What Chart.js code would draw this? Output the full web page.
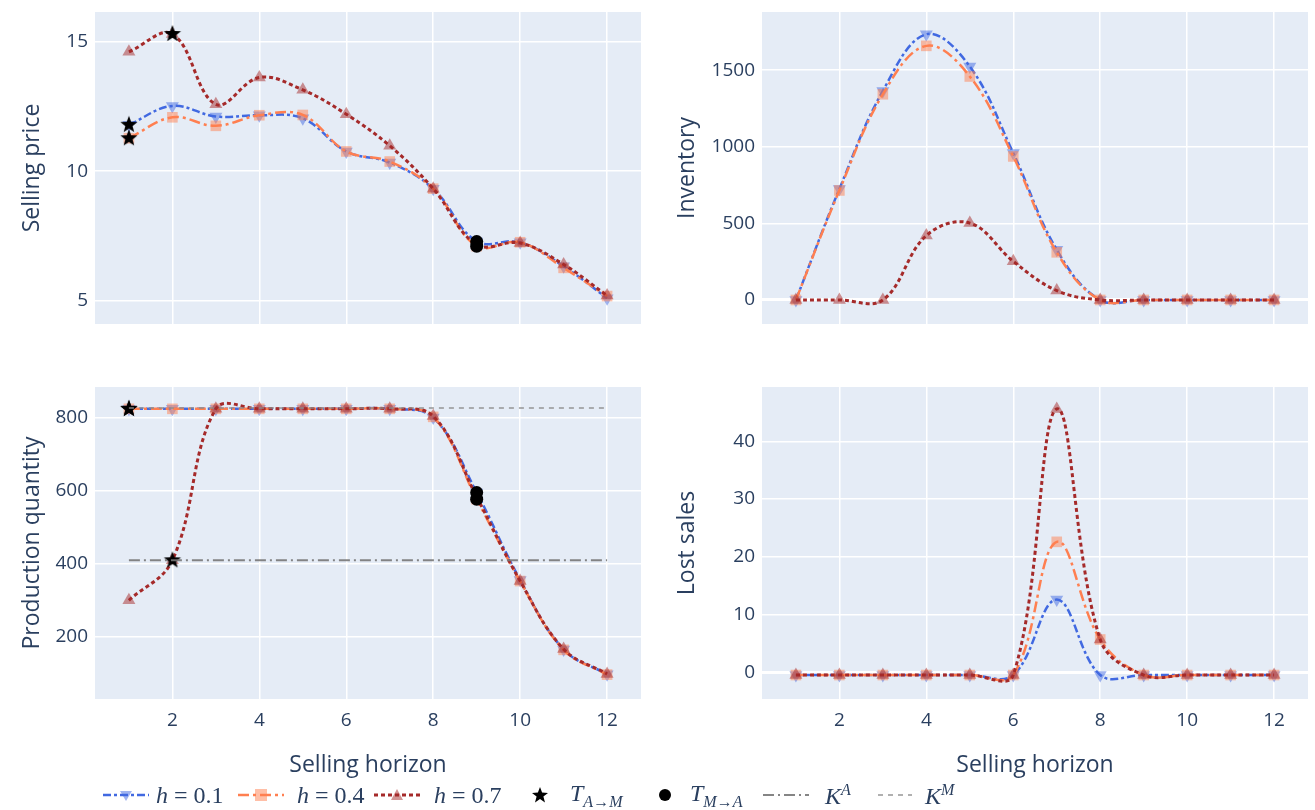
<!DOCTYPE html>
<html>
<head>
<meta charset="utf-8">
<script src="https://cdn.jsdelivr.net/npm/chart.js@4.4.0/dist/chart.umd.min.js"></script>
<style>
  body { margin: 0; background: #fff; width: 1315px; height: 810px; position: relative; overflow: hidden; font-family: 'Open Sans', sans-serif; }
  canvas.plot { position: absolute; }
  .leg { position: absolute; top: 783px; height: 24px; display: flex; align-items: center; color: #2a3f5f; }
  .math { font-family: 'Liberation Serif', 'DejaVu Serif', serif; font-size: 24px; white-space: nowrap; }
  .math .op { margin: 0 6px; font-style: normal; }
  .math sub, .math sup { font-size: 16px; font-style: italic; }
  .math sub { position: relative; top: 1px; }
</style>
</head>
<body>
<canvas id="price" class="plot" style="left:0;top:0" width="641" height="324"></canvas>
<canvas id="inventory" class="plot" style="left:655px;top:0" width="653" height="324"></canvas>
<canvas id="production" class="plot" style="left:0;top:380px" width="641" height="405"></canvas>
<canvas id="lost" class="plot" style="left:655px;top:380px" width="653" height="405"></canvas>

<div id="legend"></div>

<script>
// --- data ---
const horizon = [1, 2, 3, 4, 5, 6, 7, 8, 9, 10, 11, 12];
const xTicks = [2, 4, 6, 8, 10, 12];

const priceH01 = [11.79, 12.52, 12.11, 12.16, 12.04, 10.76, 10.33, 9.32, 7.28, 7.25, 6.32, 5.09];
const priceH04 = [11.27, 12.08, 11.75, 12.16, 12.17, 10.76, 10.37, 9.32, 7.10, 7.25, 6.26, 5.17];
const priceH07 = [14.61, 15.30, 12.58, 13.62, 13.14, 12.20, 10.98, 9.32, 7.16, 7.22, 6.39, 5.19];
const priceTicks = [5, 10, 15];

const invH01 = [0, 725, 1365, 1735, 1524, 959, 328, 0, 0, 0, 0, 0];
const invH04 = [0, 715, 1343, 1659, 1459, 937, 311, 0, 0, 0, 0, 0];
const invH07 = [0, 0, 0, 420, 502, 252, 61, 0, 0, 0, 0, 0];
const invTicks = [0, 500, 1000, 1500];

const prodH01 = [825, 825, 825, 825, 825, 825, 825, 801, 595, 355, 164, 96];
const prodH04 = [825, 825, 825, 825, 825, 825, 825, 803, 577, 352, 163, 95];
const prodH07 = [299, 409, 825, 825, 825, 825, 825, 805, 583, 352, 165, 97];
const prodTicks = [200, 400, 600, 800];

const lostH01 = [-0.45, -0.45, -0.45, -0.45, -0.45, -0.45, 12.6, -0.45, -0.45, -0.45, -0.45, -0.45];
const lostH04 = [-0.45, -0.45, -0.45, -0.45, -0.45, -0.45, 22.6, 5.7, -0.45, -0.45, -0.45, -0.45];
const lostH07 = [-0.45, -0.45, -0.45, -0.45, -0.45, -0.45, 45.6, 5.7, -0.45, -0.45, -0.45, -0.45];
const lostTicks = [0, 10, 20, 30, 40];

// switch points
const starX = [1, 1, 2];
const starPrice = [11.79, 11.27, 15.30];
const starProd = [825, 825, 409];
const circleX = [9, 9];
const circlePrice = [7.28, 7.10];
const circleProd = [595, 577];

// capacities
const capA = 409;
const capM = 827;

// --- helpers ---
const textCol = '#2a3f5f';
const colH01 = 'rgb(65,105,225)';
const colH04 = 'rgb(255,127,80)';
const colH07 = 'rgb(165,42,42)';

const makeStar = (r) => {
    const c = document.createElement('canvas');
    c.width = c.height = 2 * r + 2;
    const g = c.getContext('2d');
    g.beginPath();
    for (let i = 0; i < 10; i++) {
        const a = -Math.PI / 2 + i * Math.PI / 5;
        const rad = i % 2 ? r * 0.42 : r;
        g.lineTo(r + 1 + rad * Math.cos(a), r + 1 + rad * Math.sin(a));
    }
    g.closePath();
    g.fillStyle = '#000';
    g.fill();
    return c;
};
const starImg = makeStar(9);

const pts = (xs, ys) => xs.map((x, i) => ({ x: x, y: ys[i] }));

const hSeries = (h01, h04, h07) => [
    {
        data: pts(horizon, h01), borderColor: colH01, borderWidth: 2.5, borderDash: [8, 3, 3, 3],
        pointStyle: 'triangle', rotation: 180, pointRadius: 7.5,
        pointBackgroundColor: 'rgba(65,105,225,0.5)', pointBorderWidth: 0, tension: 0.38, order: 7
    },
    {
        data: pts(horizon, h04), borderColor: colH04, borderWidth: 2.5, borderDash: [11, 4, 3, 4],
        pointStyle: 'rect', pointRadius: 7.5,
        pointBackgroundColor: 'rgba(255,127,80,0.5)', pointBorderWidth: 0, tension: 0.38, order: 6
    },
    {
        data: pts(horizon, h07), borderColor: colH07, borderWidth: 3, borderDash: [4, 3],
        pointStyle: 'triangle', pointRadius: 7.5,
        pointBackgroundColor: 'rgba(165,42,42,0.5)', pointBorderWidth: 0, tension: 0.38, order: 5
    }
];

const markerSets = (starY, circleY) => [
    { data: pts(starX, starY), showLine: false, pointStyle: starImg, order: 4 },
    { data: pts(circleX, circleY), showLine: false, pointStyle: 'circle', pointRadius: 6.5,
      pointBackgroundColor: '#000', pointBorderWidth: 0, order: 3 }
];

const capLines = () => [
    { data: [{ x: horizon[0], y: capA }, { x: horizon[horizon.length - 1], y: capA }],
      borderColor: 'rgba(120,120,120,0.9)', borderWidth: 2, borderDash: [11, 4, 2, 4], pointRadius: 0, order: 2 },
    { data: [{ x: horizon[0], y: capM }, { x: horizon[horizon.length - 1], y: capM }],
      borderColor: 'rgba(140,140,140,0.9)', borderWidth: 1.5, borderDash: [5, 5], pointRadius: 0, order: 1 }
];

const plotBg = {
    id: 'plotBg',
    beforeDraw(chart) {
        const { ctx, chartArea: a } = chart;
        ctx.save();
        ctx.fillStyle = '#E5ECF6';
        ctx.fillRect(a.left, a.top, a.width, a.height);
        ctx.restore();
    }
};

const setTicks = (vals) => (scale) => { scale.ticks = vals.map(v => ({ value: v })); };
const noPad = (s) => { s.paddingTop = 0; s.paddingBottom = 0; s.paddingLeft = 0; s.paddingRight = 0; };

const makeChart = (id, datasets, opt) => {
    const bottom = opt.bottomRow;
    return new Chart(document.getElementById(id), {
        type: 'line',
        data: { datasets: datasets },
        plugins: [plotBg],
        options: {
            responsive: false,
            animation: false,
            events: [],
            layout: { autoPadding: false, padding: { top: bottom ? 7 : 12, left: 0, right: 0, bottom: 0 } },
            plugins: { legend: { display: false }, tooltip: { enabled: false } },
            scales: {
                x: {
                    type: 'linear', min: 0.22, max: 12.78,
                    afterBuildTicks: setTicks(xTicks),
                    afterFit: (s) => { s.height = bottom ? 86 : 0; noPad(s); },
                    grid: { color: '#ffffff', lineWidth: 1.5, drawTicks: false },
                    border: { display: false },
                    ticks: { display: bottom, padding: 10, color: textCol, font: { family: 'Open Sans', size: 19 } },
                    title: { display: bottom, text: 'Selling horizon', color: textCol,
                             font: { family: 'Open Sans', size: 23 }, padding: { top: 0, bottom: 6 } }
                },
                y: {
                    min: opt.min, max: opt.max,
                    afterBuildTicks: setTicks(opt.ticks),
                    afterFit: (s) => { s.width = opt.axisWidth; noPad(s); },
                    grid: { color: '#ffffff', drawTicks: false,
                            lineWidth: (c) => (c.tick && c.tick.value === 0 ? 3 : 1.5) },
                    border: { display: false },
                    ticks: { padding: 7, color: textCol, font: { family: 'Open Sans', size: 19 },
                             callback: (v) => String(v) },
                    title: { display: true, text: opt.title, color: textCol,
                             font: { family: 'Open Sans', size: 23 }, padding: { top: 19, bottom: 0 } }
                }
            }
        }
    });
};

makeChart('price', [...hSeries(priceH01, priceH04, priceH07), ...markerSets(starPrice, circlePrice)],
    { min: 4.09, max: 16.15, ticks: priceTicks, title: 'Selling price', axisWidth: 95, bottomRow: false });
makeChart('inventory', hSeries(invH01, invH04, invH07),
    { min: -157, max: 1880, ticks: invTicks, title: 'Inventory', axisWidth: 107, bottomRow: false });
makeChart('production', [...hSeries(prodH01, prodH04, prodH07), ...markerSets(starProd, circleProd), ...capLines()],
    { min: 28, max: 885, ticks: prodTicks, title: 'Production quantity', axisWidth: 95, bottomRow: true });
makeChart('lost', hSeries(lostH01, lostH04, lostH07),
    { min: -4.6, max: 49.4, ticks: lostTicks, title: 'Lost sales', axisWidth: 107, bottomRow: true });

// --- legend (HTML, math set in serif italic) ---
const lineSvg = (col, width, dash, marker) =>
    `<svg width="46" height="20"><line x1="0" y1="10" x2="46" y2="10" stroke="${col}" stroke-width="${width}" stroke-dasharray="${dash}"/>${marker}</svg>`;

const legendItems = [
    { left: 103, html: lineSvg(colH01, 2.5, '8,3,3,3', '<path d="M17,6 L29,6 L23,16 Z" fill="rgba(65,105,225,0.5)"/>') },
    { left: 156, html: '<span class="math"><i>h</i><span class="op">=</span>0.1</span>' },
    { left: 238, html: lineSvg(colH04, 2.5, '11,4,3,4', '<rect x="17" y="4" width="12" height="12" fill="rgba(255,127,80,0.5)"/>') },
    { left: 297, html: '<span class="math"><i>h</i><span class="op">=</span>0.4</span>' },
    { left: 374, html: lineSvg(colH07, 3, '4,3', '<path d="M17,15 L29,15 L23,4 Z" fill="rgba(165,42,42,0.5)"/>') },
    { left: 434, html: '<span class="math"><i>h</i><span class="op">=</span>0.7</span>' },
    { left: 530, html: '<svg width="20" height="20"><path d="M10,2 L12.1,7.6 L18,7.9 L13.4,11.6 L15,17.4 L10,14 L5,17.4 L6.6,11.6 L2,7.9 L7.9,7.6 Z" fill="#000"/></svg>' },
    { left: 570, html: '<span class="math"><i>T</i><sub>A→M</sub></span>' },
    { left: 655, html: '<svg width="20" height="20"><circle cx="10" cy="10" r="6" fill="#000"/></svg>' },
    { left: 690, html: '<span class="math"><i>T</i><sub>M→A</sub></span>' },
    { left: 763, html: lineSvg('rgba(120,120,120,0.9)', 2, '11,4,2,4', '') },
    { left: 825, html: '<span class="math"><i>K</i><sup>A</sup></span>' },
    { left: 878, html: '<svg width="34" height="20"><line x1="0" y1="10" x2="34" y2="10" stroke="rgba(140,140,140,0.9)" stroke-width="1.5" stroke-dasharray="5,5"/></svg>' },
    { left: 925, html: '<span class="math"><i>K</i><sup>M</sup></span>' }
];

const legendEl = document.getElementById('legend');
legendItems.forEach(item => {
    const d = document.createElement('div');
    d.className = 'leg';
    d.style.left = item.left + 'px';
    d.innerHTML = item.html;
    legendEl.appendChild(d);
});
</script>
</body>
</html>
